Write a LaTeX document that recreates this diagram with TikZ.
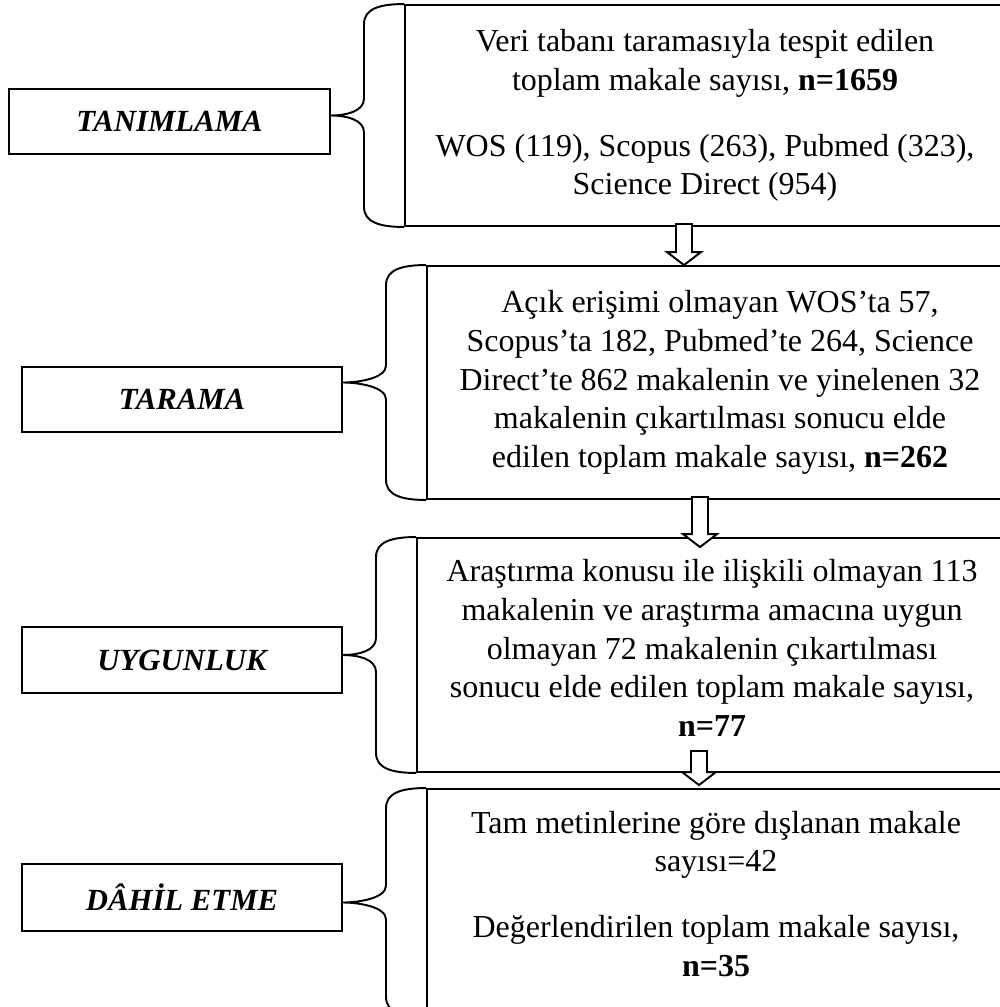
\documentclass[tikz,border=0pt]{standalone}
\usepackage{fontspec}
\setmainfont{Liberation Serif}
\usetikzlibrary{calc}

% curly side brace from a left stage box to a right info box
\newcommand{\sidebrace}[2]{%
  \draw let \p1=(#1.north west), \p2=(#1.south west), \p3=(#2.east |- #1.west) in
    (\p1) .. controls (\x1-5mm,\y1) and (\x1-8mm,\y1-1mm) .. (\x1-8mm,\y1-4mm)
    -- (\x1-8mm,\y3+3.4mm) .. controls (\x1-8mm,\y3+0.8mm) and (\x3+3mm,\y3) .. (\p3)
    .. controls (\x3+3mm,\y3) and (\x1-8mm,\y3-0.8mm) .. (\x1-8mm,\y3-3.4mm)
    -- (\x1-8mm,\y2+4mm) .. controls (\x1-8mm,\y2+1mm) and (\x1-5mm,\y2) .. (\p2);}
% hollow block arrow between two info boxes
\newcommand{\blockarrow}[5]{%
  \draw[fill=white] let \p1=(#2.south -| #1), \p2=(#3.north -| #1) in
    (\x1-1.6mm,\y1+#4) -- (\x1+1.6mm,\y1+#4) -- (\x1+1.6mm,\y2-#5+2.6mm)
    -- (\x1+3.4mm,\y2-#5+2.6mm) -- (\x1,\y2-#5) -- (\x1-3.4mm,\y2-#5+2.6mm)
    -- (\x1-1.6mm,\y2-#5+2.6mm) -- cycle;}

\begin{document}
\begin{tikzpicture}[x=0.2mm,y=-0.2mm,line width=1.1pt,
    stage/.style={draw,minimum width=64mm,minimum height=13mm,
      font=\fontsize{17.5}{22}\selectfont\bfseries\itshape},
    info/.style={draw,align=center,font=\fontsize{18.2}{22}\selectfont}]
  \useasboundingbox (0,0) rectangle (1000,1007);
  \clip (0,0) rectangle (1000,1007);

  % right hand boxes
  \node[info,minimum width=120mm,minimum height=44.2mm] (tanim) at (705,115.5)
    {Veri tabanı taramasıyla tespit edilen\\ toplam makale sayısı, \textbf{n=1659}\\[5.4mm]
     WOS (119), Scopus (263), Pubmed (323),\\ Science Direct (954)};
  \node[info,minimum width=117.2mm,minimum height=46.6mm] (tarama) at (720,382.5)
    {Açık erişimi olmayan WOS’ta 57,\\ Scopus’ta 182, Pubmed’te 264, Science\\
     Direct’te 862 makalenin ve yinelenen 32\\ makalenin çıkartılması sonucu elde\\
     edilen toplam makale sayısı, \textbf{n=262}};
  \node[info,minimum width=118mm,minimum height=46.8mm,text depth=2.8mm] (uygun) at (712,655)
    {Araştırma konusu ile ilişkili olmayan 113\\ makalenin ve araştırma amacına uygun\\
     olmayan 72 makalenin çıkartılması\\ sonucu elde edilen toplam makale sayısı,\\
     \textbf{n=77}};
  \node[info,minimum width=115.6mm,minimum height=45.4mm,text depth=3.6mm] (dahil) at (716,902.5)
    {Tam metinlerine göre dışlanan makale\\ sayısı=42\\[5.4mm]
     Değerlendirilen toplam makale sayısı,\\ \textbf{n=35}};

  % left hand stage names
  \node[stage,minimum width=64.2mm] (s1) at (169.5,121.5) {TANIMLAMA};
  \node[stage] (s2) at (182,399.5) {TARAMA};
  \node[stage,minimum height=13.2mm] (s3) at (182,660) {UYGUNLUK};
  \node[stage,minimum height=13.4mm] (s4) at (182,897.5) {DÂHİL ETME};

  \sidebrace{tanim}{s1}
  \sidebrace{tarama}{s2}
  \sidebrace{uygun}{s3}
  \sidebrace{dahil}{s4}

  \coordinate (ar1) at (684,0);
  \coordinate (ar2) at (700,0);
  \coordinate (ar3) at (699,0);
  \blockarrow{ar1}{tanim}{tarama}{0.6mm}{0mm}
  \blockarrow{ar2}{tarama}{uygun}{0.6mm}{2mm}
  \blockarrow{ar3}{uygun}{dahil}{4.4mm}{-0.6mm}
\end{tikzpicture}
\end{document}
